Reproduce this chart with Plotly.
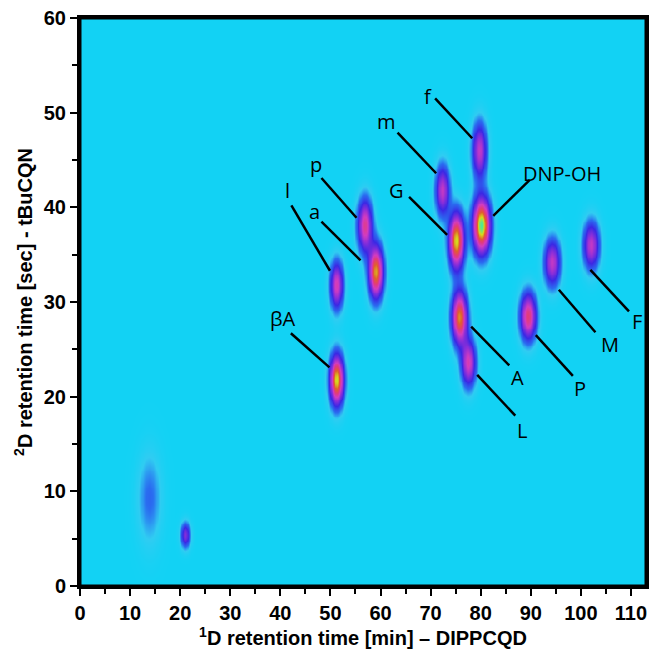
import numpy as np
import plotly.graph_objects as go

# Peak data: 1D retention (min), 2D retention (sec), relative intensity, widths
peak_x = [51.2, 51.2, 56.8, 59.0, 72.3, 79.7, 75.1, 80.1, 75.7, 77.5, 89.4, 94.2, 102.0, 13.8, 21.0]
peak_y = [21.8, 31.8, 38.1, 33.2, 41.8, 46.0, 36.5, 38.1, 28.4, 23.6, 28.5, 34.2, 36.0, 9.3, 5.4]
peak_h = [0.88, 0.55, 0.60, 0.82, 0.50, 0.50, 0.88, 0.97, 0.80, 0.55, 0.65, 0.50, 0.50, 0.15, 0.38]
peak_sx = [0.95, 0.9, 1.0, 1.0, 0.95, 1.0, 1.05, 1.2, 1.05, 1.0, 1.1, 1.1, 1.1, 1.6, 0.65]
peak_sy = [1.8, 1.7, 1.9, 1.9, 1.8, 2.0, 2.0, 2.0, 1.9, 1.7, 1.7, 1.7, 1.7, 3.2, 0.9]

labels = ["βA", "l", "p", "a", "m", "f", "G", "DNP-OH", "A", "L", "P", "M", "F"]
label_x = [40.6, 41.4, 47.1, 46.9, 61.1, 69.5, 63.2, 96.2, 87.3, 88.3, 99.8, 105.8, 111.2]
label_y = [28.3, 41.8, 44.5, 39.6, 49.1, 51.7, 41.8, 43.6, 22.0, 16.4, 20.9, 25.5, 27.9]
line_x0 = [42.1, 42.2, 48.2, 48.2, 63.4, 70.9, 65.7, 89.8, 78.1, 79.3, 91.0, 95.6, 101.9]
line_y0 = [26.7, 40.2, 43.1, 38.5, 47.9, 51.5, 41.1, 42.9, 27.4, 22.3, 26.5, 31.3, 33.4]
line_x1 = [49.8, 49.9, 55.2, 56.0, 71.1, 78.3, 73.3, 82.5, 85.7, 86.9, 98.4, 102.9, 109.6]
line_y1 = [23.1, 33.3, 38.9, 34.4, 43.6, 47.3, 37.1, 39.1, 23.3, 18.0, 22.2, 26.8, 29.0]

xs = np.arange(0, 113.01, 0.25)
ys = np.arange(0, 60.01, 0.1)
X, Y = np.meshgrid(xs, ys)
Z = np.zeros_like(X)
for cx, cy, h, sx, sy in zip(peak_x, peak_y, peak_h, peak_sx, peak_sy):
    Z += h * np.exp(-((X - cx) ** 2 / (2 * sx ** 2) + (Y - cy) ** 2 / (2 * sy ** 2)))
Z = np.clip(Z, 0, 1)

colorscale = [
    [0.0, "#12D2F4"],
    [0.06, "#30CCF2"],
    [0.14, "#2A6CF0"],
    [0.26, "#3A28E4"],
    [0.40, "#8C2ED8"],
    [0.53, "#D23CC0"],
    [0.65, "#E23C78"],
    [0.76, "#E0602C"],
    [0.87, "#D8D81C"],
    [1.0, "#20F0B8"],
]

fig = go.Figure()
fig.add_trace(go.Heatmap(x=xs, y=ys, z=Z, colorscale=colorscale, zmin=0, zmax=1,
                         zsmooth="best", showscale=False, hoverinfo="skip"))

for i, lab in enumerate(labels):
    fig.add_shape(type="line", x0=line_x0[i], y0=line_y0[i], x1=line_x1[i], y1=line_y1[i],
                  line=dict(color="black", width=2.5))
    fig.add_annotation(x=label_x[i], y=label_y[i], text=lab, showarrow=False,
                       font=dict(family="Open Sans, Noto Sans, sans-serif", size=20, color="black"))

# plot frame
fig.add_shape(type="rect", xref="paper", yref="paper", x0=0, y0=0, x1=1, y1=1,
              line=dict(color="black", width=3), layer="above")

tick_font = dict(family="Liberation Sans, Arial, sans-serif", size=20, color="black", weight="bold")
axis_font = dict(family="Liberation Sans, Arial, sans-serif", size=20, color="black", weight="bold")
fig.update_layout(
    width=649, height=657,
    margin=dict(l=80, r=3, t=18, b=71),
    paper_bgcolor="white",
    plot_bgcolor="#12D2F4",
    showlegend=False,
    xaxis=dict(range=[0, 113], tickmode="array", tickvals=list(range(0, 111, 10)),
               ticks="outside", ticklen=7, tickwidth=2, tickcolor="black",
               minor=dict(tickvals=list(range(5, 111, 10)), ticks="outside", ticklen=5,
                          tickwidth=2, tickcolor="black"),
               showline=True, linecolor="black", linewidth=3, mirror=True,
               showgrid=False, zeroline=False, automargin=False,
               tickfont=tick_font,
               title=dict(text="<sup>1</sup>D retention time [min] – DIPPCQD",
                          font=axis_font, standoff=4)),
    yaxis=dict(range=[0, 60], tickmode="array", tickvals=list(range(0, 61, 10)),
               ticks="outside", ticklen=7, tickwidth=2, tickcolor="black",
               minor=dict(tickvals=list(range(5, 60, 10)), ticks="outside", ticklen=5,
                          tickwidth=2, tickcolor="black"),
               showline=True, linecolor="black", linewidth=3, mirror=True,
               showgrid=False, zeroline=False, automargin=False,
               tickfont=tick_font,
               title=dict(text="<sup>2</sup>D retention time [sec] - tBuCQN",
                          font=axis_font, standoff=6)),
)

fig.write_html("out.html", config={"displayModeBar": False},
               post_script="document.body.style.margin='0';document.body.style.overflow='hidden';")
